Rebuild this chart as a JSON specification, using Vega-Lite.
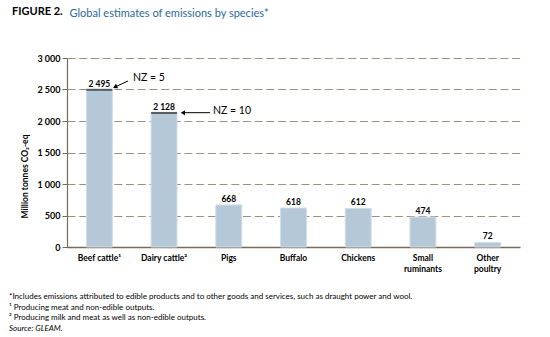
{
  "$schema": "https://vega.github.io/schema/vega-lite/v6.json",
  "padding": {"left": 9, "top": 6, "right": 5, "bottom": 5},
  "title": {
    "text": "FIGURE 2.",
    "anchor": "start",
    "frame": "bounds",
    "dx": 3,
    "fontSize": 11,
    "fontWeight": "bold",
    "color": "#000000",
    "offset": -10
  },
  "datasets": {
    "species": [
      {"species": "Beef cattle¹", "value": 2495},
      {"species": "Dairy cattle²", "value": 2128},
      {"species": "Pigs", "value": 668},
      {"species": "Buffalo", "value": 618},
      {"species": "Chickens", "value": 612},
      {"species": "Small|ruminants", "value": 474},
      {"species": "Other|poultry", "value": 72}
    ],
    "arrows": [
      {"label": "NZ = 5", "x": 0.943, "y": 2635, "x2": 0.742, "y2": 2540, "tx": 1.02, "ty": 2683},
      {"label": "NZ = 10", "x": 2.21, "y": 2132, "x2": 1.79, "y2": 2132, "tx": 2.256, "ty": 2159}
    ]
  },
  "vconcat": [
    {
      "width": 453,
      "height": 189,
      "title": {
        "text": [
          "*Includes emissions attributed to edible products and to other goods and services, such as draught power and wool.",
          "¹ Producing meat and non-edible outputs.",
          "² Producing milk and meat as well as non-edible outputs."
        ],
        "subtitle": "Source: GLEAM.",
        "orient": "bottom",
        "anchor": "start",
        "frame": "group",
        "dx": -58,
        "offset": 20,
        "fontSize": 8,
        "fontWeight": "normal",
        "color": "#000000",
        "lineHeight": 10.5,
        "subtitleFontSize": 8,
        "subtitleFontStyle": "italic",
        "subtitleColor": "#000000",
        "subtitlePadding": 3
      },
      "resolve": {"scale": {"x": "independent"}},
      "layer": [
        {
          "data": {"name": "species"},
          "layer": [
            {
              "mark": {"type": "bar", "fill": "#b4c8d8", "stroke": "#d0dde8", "strokeWidth": 1},
              "encoding": {
                "x": {
                  "field": "species", "type": "nominal", "sort": null,
                  "scale": {"paddingInner": 0.6, "paddingOuter": 0.3},
                  "axis": {
                    "title": null,
                    "labelAngle": 0,
                    "ticks": false,
                    "labelPadding": 6,
                    "labelFontSize": 8.5,
                    "labelFontWeight": "bold",
                    "labelColor": "#000000",
                    "labelLineHeight": 11.5,
                    "labelExpr": "split(datum.label, '|')",
                    "domainColor": "#7a6a55",
                    "domainWidth": 1.5
                  }
                },
                "y": {
                  "field": "value", "type": "quantitative",
                  "scale": {"domain": [0, 3000], "nice": false},
                  "axis": {
                    "tickCount": 6,
                    "labelOverlap": false,
                    "format": ",d",
                    "title": "Million tonnes CO₂-eq",
                    "titleFontSize": 8.5,
                    "titleFontWeight": "bold",
                    "titleColor": "#000000",
                    "titleAngle": -90,
                    "titleX": -43,
                    "titleY": 118,
                    "titleAlign": "center",
                    "titleBaseline": "middle",
                    "labelFontSize": 9,
                    "labelFontWeight": "bold",
                    "labelColor": "#000000",
                    "labelPadding": 2,
                    "tickSize": 5,
                    "tickColor": "#7a6a55",
                    "domainColor": "#7a6a55",
                    "domainWidth": 1.2,
                    "gridColor": "#9e907c",
                    "gridDash": [8, 3.7],
                    "gridWidth": 1.2
                  }
                }
              }
            },
            {
              "transform": [{"filter": "datum.value > 2000"}],
              "mark": {"type": "tick", "color": "#222222", "thickness": 2, "size": 26},
              "encoding": {
                "x": {"field": "species", "type": "nominal", "sort": null},
                "y": {"field": "value", "type": "quantitative"}
              }
            },
            {
              "mark": {"type": "text", "dy": -6, "fontSize": 8.5, "fontWeight": "bold", "color": "#000000"},
              "encoding": {
                "x": {"field": "species", "type": "nominal", "sort": null},
                "y": {"field": "value", "type": "quantitative"},
                "text": {"field": "value", "type": "quantitative", "format": ",d"}
              }
            }
          ]
        },
        {
          "data": {"name": "arrows"},
          "layer": [
            {
              "mark": {"type": "rule", "color": "#000000", "strokeWidth": 1},
              "encoding": {
                "x": {
                  "field": "x", "type": "quantitative", "scale": {"domain": [0, 7]},
                  "axis": {
                    "orient": "top",
                    "domain": false,
                    "ticks": false,
                    "labels": false,
                    "grid": false,
                    "title": "Global estimates of emissions by species*",
                    "titleFontSize": 11,
                    "titleFontWeight": "normal",
                    "titleColor": "#2a6a9b",
                    "titleAnchor": "start",
                    "titleAlign": "left",
                    "titleBaseline": "middle",
                    "titleX": 2,
                    "titleY": -45
                  }
                },
                "y": {"field": "y", "type": "quantitative"},
                "x2": {"field": "x2"},
                "y2": {"field": "y2"}
              }
            },
            {
              "transform": [{"filter": "datum.label == 'NZ = 10'"}],
              "mark": {"type": "point", "shape": "triangle-left", "filled": true, "color": "#000000", "size": 25, "opacity": 1},
              "encoding": {
                "x": {"field": "x2", "type": "quantitative"},
                "y": {"field": "y2", "type": "quantitative"}
              }
            },
            {
              "transform": [{"filter": "datum.label == 'NZ = 5'"}],
              "mark": {"type": "point", "shape": "triangle-left", "filled": true, "color": "#000000", "size": 25, "opacity": 1, "angle": 335},
              "encoding": {
                "x": {"field": "x2", "type": "quantitative"},
                "y": {"field": "y2", "type": "quantitative"}
              }
            },
            {
              "mark": {"type": "text", "align": "left", "baseline": "middle", "fontSize": 10.5, "color": "#000000"},
              "encoding": {
                "x": {"field": "tx", "type": "quantitative"},
                "y": {"field": "ty", "type": "quantitative"},
                "text": {"field": "label"}
              }
            }
          ]
        }
      ]
    }
  ],
  "config": {
    "font": "Lato",
    "view": {"stroke": null},
    "axisX": {"grid": false},
    "locale": {"number": {"decimal": ".", "thousands": " ", "grouping": [3], "currency": ["", ""]}}
  }
}
